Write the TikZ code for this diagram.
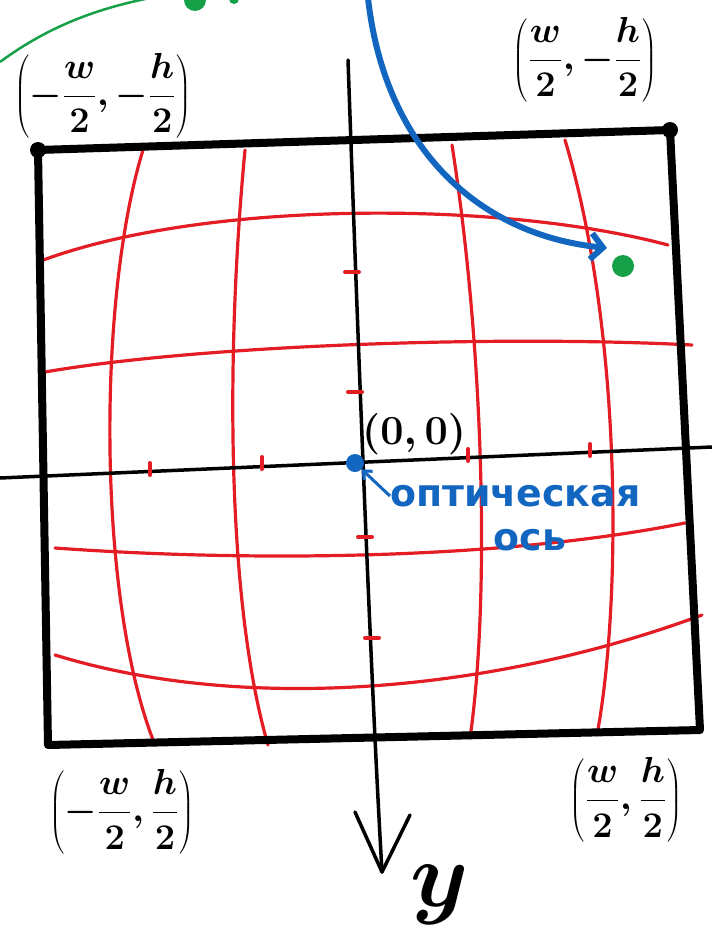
\documentclass[tikz,border=0pt]{standalone}
\usepackage{fontspec}
\newfontfamily\rufont{DejaVu Sans}
\usetikzlibrary{arrows.meta}
\definecolor{penred}{RGB}{228,28,36}
\definecolor{penblue}{RGB}{18,102,192}
\definecolor{pengreen}{RGB}{22,160,72}
\newcommand{\bigmath}[2]{\scalebox{#1}{\fontsize{20.74}{25}\selectfont\boldmath$\displaystyle #2$}}
\begin{document}
\begin{tikzpicture}[x=1bp,y=-1bp,
  frame/.style={line width=8bp,black,line cap=round,line join=round},
  axisline/.style={line width=3.5bp,black,line cap=round},
  gridline/.style={line width=3.2bp,penred,line cap=round},
  redtick/.style={line width=4bp,penred,line cap=round},
  cornerdot/.style={circle,fill=black,inner sep=0pt,minimum size=16bp},
  coordlabel/.style={inner sep=0pt},
  rulabel/.style={inner sep=0pt,text=penblue,font=\rufont\bfseries\fontsize{38}{42}\selectfont}
]
\useasboundingbox (0,0) rectangle (712,949);

% corners of the frame
\coordinate (tl) at (38,150);
\coordinate (tr) at (670,130);
\coordinate (br) at (700,730);
\coordinate (bl) at (48,745);

% red distorted grid
\draw[gridline] (143,150) .. controls (97,300) and (97,600) .. (155,745);
\draw[gridline] (245,150) .. controls (226,350) and (226,600) .. (268,745);
\draw[gridline] (452,145) .. controls (484,350) and (490,600) .. (470,738);
\draw[gridline] (565,140) .. controls (622,330) and (622,600) .. (597,735);
\draw[gridline] (38,262) .. controls (200,200) and (500,200) .. (668,245);
\draw[gridline] (45,372) .. controls (200,345) and (500,335) .. (692,345);
\draw[gridline] (55,548) .. controls (250,562) and (500,560) .. (685,523);
\draw[gridline] (55,655) .. controls (250,715) and (500,690) .. (702,615);

% axes
\coordinate (xl) at (0,478);
\coordinate (xr) at (712,447);
\coordinate (yt) at (348,60);
\coordinate (yb) at (382,872);
\coordinate (ywl) at (355,812);
\coordinate (ywr) at (410,815);
\draw[axisline] (xl) -- (xr);
\draw[axisline] (yt) .. controls (360,400) and (372,700) .. (yb);
\draw[axisline,line join=round] (ywl) -- (yb) -- (ywr);

% red ticks on the axes
\foreach \x/\y in {150/469,262/463,468/455,590/450}
  \draw[redtick] (\x,\y-6) -- (\x,\y+6);
\foreach \x/\y in {352/272,355/392,365/537,372/638}
  \draw[redtick] (\x-7,\y) -- (\x+7,\y);

% frame
\draw[frame] (tl) -- (tr) -- (br) -- (bl) -- cycle;
\node[cornerdot] (dtl) at (tl) {};
\node[cornerdot] (dtr) at (tr) {};

% corner labels
\node[coordlabel] (ltl) at (103,96) {\bigmath{1.75}{\left(-\frac{w}{2},-\frac{h}{2}\right)}};
\node[coordlabel] (ltr) at (585,60) {\bigmath{1.75}{\left(\frac{w}{2},-\frac{h}{2}\right)}};
\node[coordlabel] (lbl) at (122,812) {\bigmath{1.75}{\left(-\frac{w}{2},\frac{h}{2}\right)}};
\node[coordlabel] (lbr) at (626,800) {\bigmath{1.75}{\left(\frac{w}{2},\frac{h}{2}\right)}};

% origin
\node[circle,fill=penblue,inner sep=0pt,minimum size=18bp] (origin) at (355,463) {};
\node[coordlabel,anchor=south west] (lorig) at (362,455) {\bigmath{2}{(0,0)}};
\node[rulabel,anchor=west] (opt) at (390,496) {оптическая};
\node[rulabel] (os) at (530,540) {ось};
\draw[line width=3bp,penblue,-{Straight Barb[length=7bp,width=12bp]}] (opt.west) -- (origin);

% y label
\node[coordlabel] (ylab) at (440,895) {\bigmath{4.5}{y}};

% blue curved arrow to the green point
\coordinate (btop) at (368,-2);
\node[circle,fill=pengreen,inner sep=0pt,minimum size=22bp] (gpt) at (623,266) {};
\draw[line width=6bp,penblue,line cap=round,-{Straight Barb[length=12bp,width=26bp,line width=6bp]}]
  (btop) .. controls (385,150) and (480,235) .. (607,248);

% green curve and blobs at the top
\coordinate (gstart) at (0,62);
\coordinate (gend) at (150,-2);
\draw[line width=2.5bp,pengreen] (gstart) .. controls (50,25) and (100,8) .. (gend);
\node[circle,fill=pengreen,inner sep=0pt,minimum size=22bp] (gblob) at (195,0) {};
\node[circle,fill=pengreen,inner sep=0pt,minimum size=10bp] (gblob2) at (234,-1) {};
\end{tikzpicture}
\end{document}
